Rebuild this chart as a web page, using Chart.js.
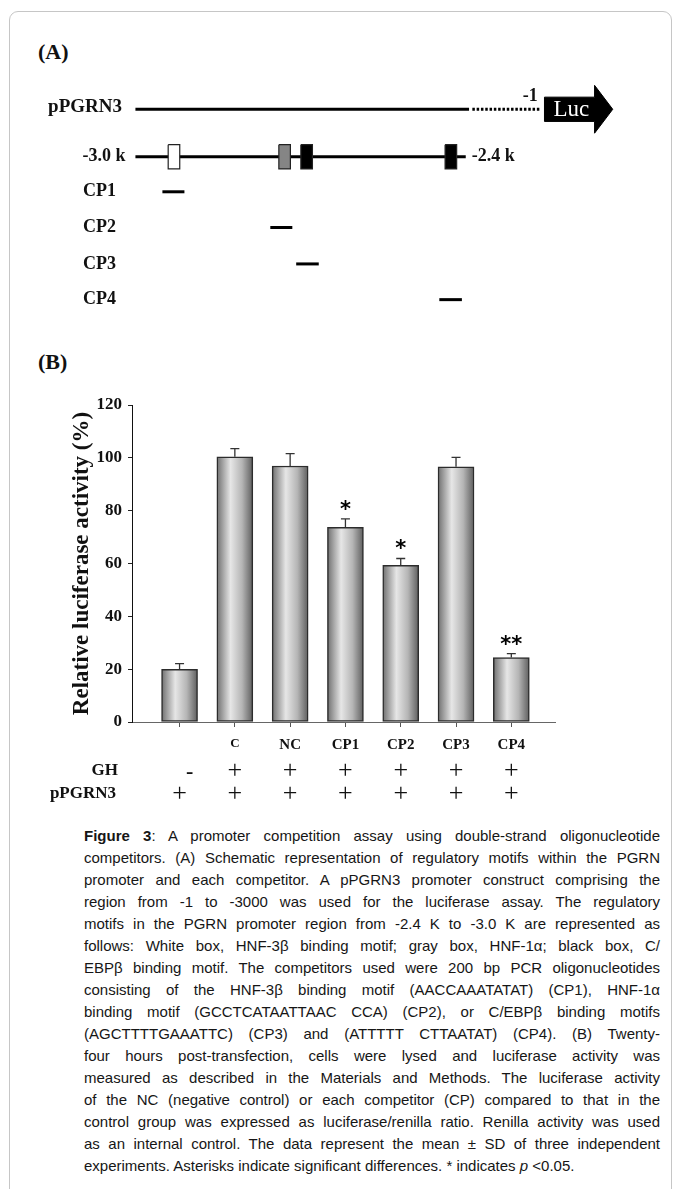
<!DOCTYPE html>
<html>
<head>
<meta charset="utf-8">
<script src="https://cdn.jsdelivr.net/npm/chart.js@4.4.1/dist/chart.umd.min.js"></script>
<style>
  html, body { margin: 0; padding: 0; background: #fff; }
  body { width: 681px; height: 1189px; position: relative; overflow: hidden; }
  .frame { position: absolute; left: 9px; top: 11px; width: 661px; height: 1230px; border: 1px solid #c6c6c6; border-radius: 9px; }
  .panel { position: absolute; left: 38px; font: bold 22px "Liberation Serif", serif; color: #111; line-height: 22px; }
  #schemeWrap { position: absolute; left: 0; top: 0; width: 681px; height: 330px; }
  #barWrap { position: absolute; left: 0; top: 340px; width: 681px; height: 480px; }
  .caption { position: absolute; left: 84px; top: 825px; width: 576px; font: 15px "Liberation Sans", Arial, sans-serif; line-height: 22px; color: #161616; }
  .caption span { white-space: nowrap; display: inline-block; }
</style>
</head>
<body>
<div class="frame"></div>
<div class="panel" style="top:41px">(A)</div>
<div class="panel" style="top:351px">(B)</div>
<div id="schemeWrap"><canvas id="scheme" width="681" height="330"></canvas></div>
<div id="barWrap"><canvas id="bars" width="681" height="480"></canvas></div>
<div class="caption" id="caption">
  <div><span><b>Figure 3</b>: A promoter competition assay using double-strand oligonucleotide</span></div>
  <div><span>competitors. (A) Schematic representation of regulatory motifs within the PGRN</span></div>
  <div><span>promoter and each competitor. A pPGRN3 promoter construct comprising the</span></div>
  <div><span>region from -1 to -3000 was used for the luciferase assay. The regulatory</span></div>
  <div><span>motifs in the PGRN promoter region from -2.4 K to -3.0 K are represented as</span></div>
  <div><span>follows: White box, HNF-3β binding motif; gray box, HNF-1α; black box, C/</span></div>
  <div><span>EBPβ binding motif. The competitors used were 200 bp PCR oligonucleotides</span></div>
  <div><span>consisting of the HNF-3β binding motif (AACCAAATATAT) (CP1), HNF-1α</span></div>
  <div><span>binding motif (GCCTCATAATTAAC CCA) (CP2), or C/EBPβ binding motifs</span></div>
  <div><span>(AGCTTTTGAAATTC) (CP3) and (ATTTTT CTTAATAT) (CP4). (B) Twenty-</span></div>
  <div><span>four hours post-transfection, cells were lysed and luciferase activity was</span></div>
  <div><span>measured as described in the Materials and Methods. The luciferase activity</span></div>
  <div><span>of the NC (negative control) or each competitor (CP) compared to that in the</span></div>
  <div><span>control group was expressed as luciferase/renilla ratio. Renilla activity was used</span></div>
  <div><span>as an internal control. The data represent the mean ± SD of three independent</span></div>
  <div><span class="last">experiments. Asterisks indicate significant differences. * indicates <i>p</i> &lt;0.05.</span></div>
</div>
<script>
// ---- panel A: promoter schematic (positions in bp, rows top to bottom) ----
const constructRow = 0;
const promoterRow = 1.33;
const constructSolid = [-3000, -2394];
const constructDotted = [-2388, -2264];
const promoterSpan = [-3000, -2400];
const motifNames = ['HNF-3β', 'HNF-1α', 'C/EBPβ', 'C/EBPβ'];
const motifCenters = [-2930, -2729, -2689, -2427];
const motifColors = ['#ffffff', '#858585', '#000000', '#000000'];
const competitorNames = ['CP1', 'CP2', 'CP3', 'CP4'];
const competitorRows = [2.31, 3.31, 4.33, 5.33];
const competitorStart = [-2951, -2755, -2708, -2448];
const competitorEnd = [-2911, -2715, -2667, -2407];

// ---- panel B: luciferase assay ----
const categories = ['', 'C', 'NC', 'CP1', 'CP2', 'CP3', 'CP4'];
const activity = [19.9, 100.4, 96.9, 73.7, 59.3, 96.6, 24.4];
const activitySD = [2.2, 3.1, 4.7, 3.2, 2.6, 3.6, 1.5];
const significance = ['', '', '', '*', '*', '', '**'];
const ghSigns = ['-', '+', '+', '+', '+', '+', '+'];
const constructSigns = ['+', '+', '+', '+', '+', '+', '+'];

const serif = '"Liberation Serif", "Times New Roman", serif';

// box / arrow shapes as closed polygons in data units
function rectPoints(x0, x1, yc, h) {
  return [{x: x0, y: yc - h}, {x: x1, y: yc - h}, {x: x1, y: yc + h}, {x: x0, y: yc + h}, {x: x0, y: yc - h}];
}
const lucArrow = [
  {x: -2257, y: -0.34}, {x: -2166, y: -0.34}, {x: -2166, y: -0.67}, {x: -2133, y: 0},
  {x: -2166, y: 0.67}, {x: -2166, y: 0.34}, {x: -2257, y: 0.34}, {x: -2257, y: -0.34}
];

const lineDs = (data, extra) => Object.assign({
  data, showLine: true, pointRadius: 0, borderColor: '#000', borderWidth: 3,
  tension: 0, fill: false, order: 1
}, extra || {});

const schemeSets = [
  lineDs([{x: constructSolid[0], y: constructRow}, {x: constructSolid[1], y: constructRow}]),
  lineDs([{x: constructDotted[0], y: constructRow}, {x: constructDotted[1], y: constructRow}], {borderDash: [2.5, 1.8], borderCapStyle: 'butt'}),
  lineDs([{x: promoterSpan[0], y: promoterRow}, {x: promoterSpan[1], y: promoterRow}]),
  lineDs(lucArrow, {borderWidth: 1, backgroundColor: '#000', fill: 'shape', order: 0})
];
competitorNames.forEach((n, i) => {
  schemeSets.push(lineDs([{x: competitorStart[i], y: competitorRows[i]}, {x: competitorEnd[i], y: competitorRows[i]}]));
});
motifCenters.forEach((c, i) => {
  schemeSets.push(lineDs(rectPoints(c - 10.5, c + 10.5, promoterRow, 0.34),
    {borderWidth: 1.2, borderColor: '#222', backgroundColor: motifColors[i], fill: 'shape', order: 0}));
});

const schemeLabels = {
  id: 'schemeLabels',
  afterDraw(chart) {
    const {ctx, scales: {x, y}} = chart;
    ctx.save();
    ctx.fillStyle = '#111';
    ctx.textBaseline = 'middle';
    ctx.font = 'bold 19px ' + serif;
    ctx.textAlign = 'right';
    ctx.fillText('pPGRN3', 122, y.getPixelForValue(constructRow) - 2);
    ctx.font = 'bold 18px ' + serif;
    ctx.fillText('-3.0 k', x.getPixelForValue(promoterSpan[0]) - 10, y.getPixelForValue(promoterRow));
    ctx.textAlign = 'left';
    ctx.fillText('-2.4 k', x.getPixelForValue(promoterSpan[1]) + 6, y.getPixelForValue(promoterRow));
    competitorNames.forEach((n, i) => ctx.fillText(n, 83, y.getPixelForValue(competitorRows[i])));
    ctx.textAlign = 'center';
    ctx.font = 'bold 18px ' + serif;
    ctx.fillText('-1', x.getPixelForValue(-2283), y.getPixelForValue(-0.35));
    ctx.font = '23px ' + serif;
    ctx.fillStyle = '#fff';
    ctx.fillText('Luc', x.getPixelForValue(-2208), y.getPixelForValue(constructRow) + 1);
    ctx.restore();
  }
};

new Chart(document.getElementById('scheme'), {
  type: 'scatter',
  data: {datasets: schemeSets},
  options: {
    responsive: false, animation: false,
    layout: {padding: 0},
    plugins: {legend: {display: false}, tooltip: {enabled: false}},
    scales: {
      x: {type: 'linear', display: false, min: -3246, max: -2009},
      y: {type: 'linear', display: false, reverse: true, min: -3.06, max: 6.18}
    }
  },
  plugins: [schemeLabels]
});

// ---- bar chart ----
function barGradient(ctx) {
  const chart = ctx.chart;
  const xs = chart.scales && chart.scales.x;
  if (ctx.type !== 'data' || !xs) return '#cccccc';
  const cx = xs.getPixelForValue(ctx.dataIndex);
  if (!isFinite(cx)) return '#cccccc';
  const g = chart.ctx.createLinearGradient(cx - 18, 0, cx + 18, 0);
  g.addColorStop(0, '#6f6f6f');
  g.addColorStop(0.38, '#e6e6e6');
  g.addColorStop(0.7, '#b5b5b5');
  g.addColorStop(1, '#5e5e5e');
  return g;
}

const errorBars = {
  id: 'errorBars',
  afterDatasetsDraw(chart) {
    const {ctx, scales: {x, y}, chartArea} = chart;
    ctx.save();
    ctx.strokeStyle = '#333';
    ctx.lineWidth = 1.3;
    activity.forEach((v, i) => {
      const px = x.getPixelForValue(i);
      const top = y.getPixelForValue(v + activitySD[i]);
      const base = y.getPixelForValue(v);
      ctx.beginPath();
      ctx.moveTo(px, base); ctx.lineTo(px, top);
      ctx.moveTo(px - 4.5, top); ctx.lineTo(px + 4.5, top);
      ctx.stroke();
      if (significance[i]) {
        ctx.fillStyle = '#000';
        ctx.font = 'bold 21px "DejaVu Sans", sans-serif';
        ctx.textAlign = 'center';
        ctx.textBaseline = 'alphabetic';
        ctx.fillText(significance[i], px, top - 3);
      }
    });
    // treatment rows under the axis
    const rowGH = chartArea.bottom + 49;
    const rowPG = chartArea.bottom + 72;
    ctx.fillStyle = '#111';
    ctx.textBaseline = 'middle';
    ctx.textAlign = 'right';
    ctx.font = 'bold 17px ' + serif;
    ctx.fillText('GH', 118, rowGH);
    ctx.fillText('pPGRN3', 116, rowPG);
    ctx.textAlign = 'center';
    categories.forEach((c, i) => {
      const px = x.getPixelForValue(i);
      if (ghSigns[i] === '-') {
        ctx.font = 'bold 22px ' + serif;
        ctx.fillText('-', px + 10, rowGH + 1);
      } else {
        ctx.font = '26px ' + serif;
        ctx.fillText(ghSigns[i], px, rowGH);
      }
      ctx.font = '26px ' + serif;
      ctx.fillText(constructSigns[i], px, rowPG);
    });
    ctx.restore();
  }
};

try {
  new Chart(document.getElementById('bars'), {
    type: 'bar',
    data: {
      datasets: [{
        data: activity.map((v, i) => ({x: i, y: v})),
        backgroundColor: barGradient,
        borderColor: '#2c2c2c',
        borderWidth: 1.5,
        borderSkipped: false,
        barThickness: 36
      }]
    },
    options: {
      responsive: false, animation: false,
      layout: {padding: {top: 65, right: 126, left: 0, bottom: 0}},
      plugins: {legend: {display: false}, tooltip: {enabled: false}},
      scales: {
        x: {
          type: 'linear', min: -0.86, max: 6.79, offset: false,
          afterBuildTicks: s => { s.ticks = categories.map((c, i) => ({value: i})); },
          afterFit: s => { s.height = 98; },
          grid: {drawOnChartArea: false, offset: false, tickLength: 5, color: '#555'},
          border: {color: '#666', width: 1},
          ticks: {
            callback: (v, i) => categories[i],
            font: c => ({family: serif, weight: 'bold', size: c.index === 1 ? 13 : 15}),
            color: '#111', padding: 9, maxRotation: 0, autoSkip: false
          }
        },
        y: {
          min: 0, max: 120,
          afterFit: s => { s.width = 132; },
          grid: {drawOnChartArea: false, tickLength: 4, color: '#222'},
          border: {color: '#111', width: 1},
          ticks: {stepSize: 20, font: {family: serif, weight: 'bold', size: 17}, color: '#111', padding: 6},
          title: {
            display: true, text: 'Relative luciferase activity (%)',
            font: {family: serif, weight: 'bold', size: 23}, color: '#111',
            padding: {top: 68, bottom: 0}
          }
        }
      }
    },
    plugins: [errorBars]
  });
} catch (e) { console.error(e); }

// justify the caption lines to the column width
document.querySelectorAll('#caption span').forEach(sp => {
  if (sp.classList.contains('last')) return;
  const gaps = (sp.textContent.match(/ /g) || []).length;
  const extra = 576 - sp.getBoundingClientRect().width;
  if (gaps) sp.style.wordSpacing = (extra / gaps) + 'px';
});
</script>
</body>
</html>
